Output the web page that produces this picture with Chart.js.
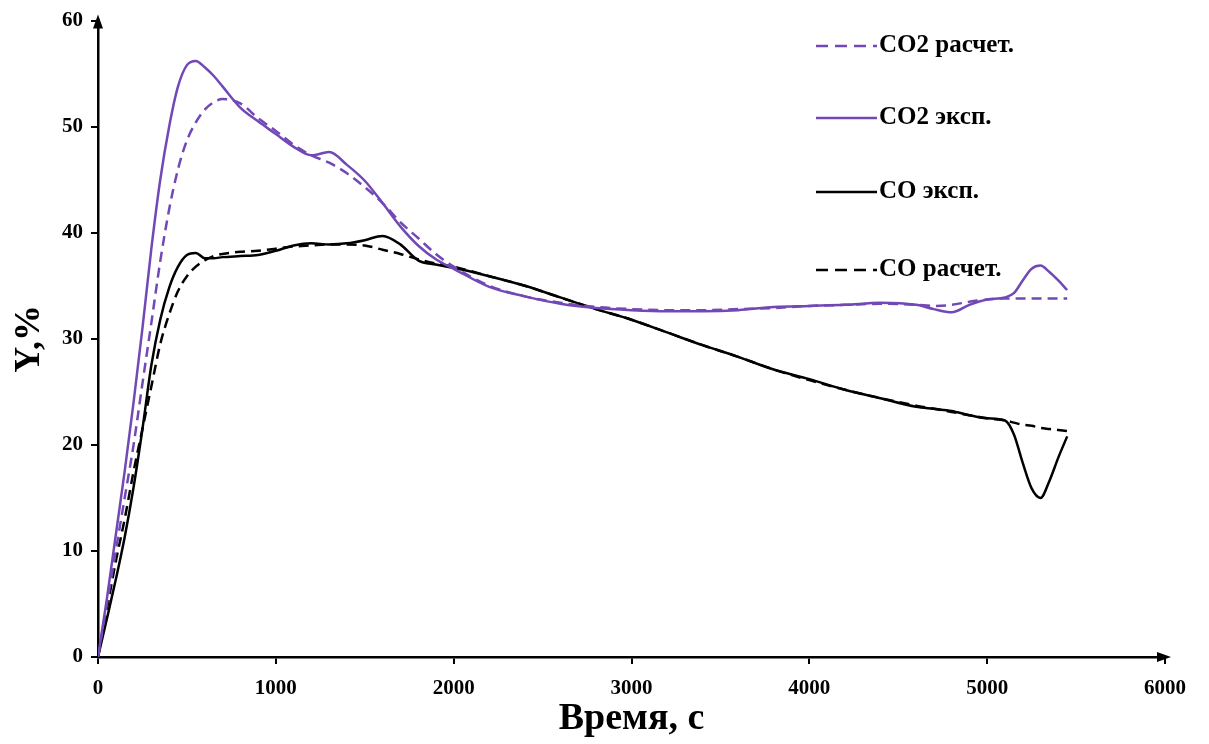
<!DOCTYPE html>
<html>
<head>
<meta charset="utf-8">
<script src="https://cdn.jsdelivr.net/npm/chart.js@4"></script>
<style>
  html, body { margin: 0; padding: 0; background: #fff; }
  #wrap { width: 1209px; height: 744px; }
</style>
</head>
<body>
<div id="wrap"><canvas id="gas-chart"></canvas></div>
<script>
// time, s
var timeSec = [0,50,100,150,200,250,300,350,400,450,500,550,600,650,700,800,900,1000,1100,1200,
  1300,1400,1500,1600,1700,1800,1900,2000,2200,2400,2600,2800,3000,3200,3400,3600,3800,4000,
  4200,4400,4600,4700,4800,4900,5000,5100,5150,5200,5250,5300,5350,5400,5450];

// Y, %
var co2Calc = [0,5,10,15,20,25.8,31.5,37.3,42.2,46,48.7,50.4,51.6,52.3,52.6,52.2,50.8,49.6,48.3,47.3,
  46.6,45.6,44.3,42.8,41.0,39.5,38.0,36.8,35.0,34.0,33.4,33.0,32.8,32.7,32.7,32.8,32.9,33.1,
  33.2,33.3,33.2,33.1,33.2,33.5,33.7,33.8,33.8,33.8,33.8,33.8,33.8,33.8,33.8];
var co2Exp = [0,5.5,11.5,17.5,24,31,38.5,45,50,53.8,55.8,56.2,55.6,54.8,53.8,51.8,50.5,49.3,48.1,47.3,
  47.6,46.4,44.9,42.8,40.6,38.8,37.5,36.6,34.9,34.0,33.3,32.9,32.7,32.6,32.6,32.7,33.0,33.1,
  33.2,33.4,33.2,32.8,32.5,33.2,33.7,33.9,34.3,35.5,36.6,36.9,36.3,35.5,34.6];
var coExp = [0,3.6,7.3,11.3,16,21.5,27.5,31.8,34.8,36.8,37.9,38.1,37.6,37.6,37.7,37.8,37.9,38.3,38.8,39.0,
  38.9,39.0,39.3,39.7,38.9,37.4,37.0,36.7,35.9,35.0,33.9,32.8,31.8,30.6,29.4,28.3,27.1,26.2,
  25.2,24.4,23.6,23.4,23.2,22.8,22.5,22.3,21.0,18.3,15.9,15.0,16.6,18.8,20.8];
var coCalc = [0,4.5,9,13,17.5,21.5,25.5,29.5,32.3,34.5,35.9,36.8,37.4,37.8,38.0,38.2,38.3,38.5,38.7,38.8,
  38.9,38.9,38.8,38.4,38.0,37.5,37.1,36.8,35.9,35.0,33.9,32.8,31.8,30.6,29.4,28.3,27.1,26.1,
  25.2,24.4,23.7,23.4,23.1,22.8,22.5,22.3,22.1,21.9,21.8,21.6,21.5,21.4,21.3];

var seriesNames = ["CO2 расчет.", "CO2 эксп.", "CO эксп.", "CO расчет."];
var purple = "#7248b6";
var serif = "'Liberation Serif', 'Times New Roman', serif";

function pts(values) {
  return timeSec.map(function (t, i) { return { x: t, y: values[i] }; });
}

function line(label, values, color, dashed) {
  return {
    label: label,
    data: pts(values),
    borderColor: color,
    borderWidth: 2.5,
    borderDash: dashed ? [10, 6] : [],
    pointRadius: 0,
    fill: false,
    cubicInterpolationMode: 'monotone'
  };
}

// arrowheads on both axes
var axisArrows = {
  id: 'axisArrows',
  afterDraw: function (chart) {
    var ctx = chart.ctx, a = chart.chartArea;
    ctx.save();
    ctx.fillStyle = '#000';
    ctx.beginPath();
    ctx.moveTo(a.left, a.top - 6);
    ctx.lineTo(a.left - 5, a.top + 8);
    ctx.lineTo(a.left + 5, a.top + 8);
    ctx.closePath();
    ctx.fill();
    ctx.beginPath();
    ctx.moveTo(a.right + 6, a.bottom);
    ctx.lineTo(a.right - 8, a.bottom - 5);
    ctx.lineTo(a.right - 8, a.bottom + 5);
    ctx.closePath();
    ctx.fill();
    ctx.restore();
  }
};

// stacked legend in the upper right
var sideLegend = {
  id: 'sideLegend',
  afterDraw: function (chart) {
    var ctx = chart.ctx;
    var rows = [46, 118, 192, 270];
    ctx.save();
    ctx.font = "bold 25px " + serif;
    ctx.textBaseline = 'middle';
    chart.data.datasets.forEach(function (ds, i) {
      var y = rows[i];
      ctx.strokeStyle = ds.borderColor;
      ctx.lineWidth = 2.5;
      ctx.setLineDash(ds.borderDash.length ? [12, 7] : []);
      ctx.beginPath();
      ctx.moveTo(816, y);
      ctx.lineTo(877, y);
      ctx.stroke();
      ctx.setLineDash([]);
      ctx.fillStyle = '#000';
      ctx.fillText(ds.label, 879, y);
    });
    ctx.restore();
  }
};

new Chart(document.getElementById("gas-chart"), {
  type: 'line',
  data: {
    datasets: [
      line(seriesNames[0], co2Calc, purple, true),
      line(seriesNames[1], co2Exp, purple, false),
      line(seriesNames[2], coExp, '#000', false),
      line(seriesNames[3], coCalc, '#000', true)
    ]
  },
  options: {
    responsive: true,
    maintainAspectRatio: false,
    animation: false,
    layout: { padding: { top: 20, right: 44, bottom: 2, left: 8 } },
    plugins: {
      legend: { display: false },
      tooltip: { enabled: false }
    },
    scales: {
      x: {
        type: 'linear',
        min: 0,
        max: 6000,
        border: { color: '#000', width: 2.5 },
        grid: { drawOnChartArea: false, color: '#000', tickLength: 7, lineWidth: 2 },
        ticks: {
          stepSize: 1000,
          color: '#000',
          padding: 12,
          maxRotation: 0,
          font: { family: serif, size: 21, weight: 'bold' },
          callback: function (v) { return String(v); }
        },
        title: {
          display: true,
          text: 'Время, с',
          color: '#000',
          padding: { top: 0, bottom: 0 },
          font: { family: serif, size: 38, weight: 'bold' }
        },
        afterFit: function (s) { s.height = 85; }
      },
      y: {
        min: 0,
        max: 60,
        border: { color: '#000', width: 2.5 },
        grid: { drawOnChartArea: false, color: '#000', tickLength: 7, lineWidth: 2 },
        ticks: {
          stepSize: 10,
          color: '#000',
          padding: 8,
          font: { family: serif, size: 21, weight: 'bold' }
        },
        title: {
          display: true,
          text: 'Y,%',
          color: '#000',
          padding: { top: 0, bottom: 0 },
          font: { family: serif, size: 36, weight: 'bold' }
        },
        afterFit: function (s) { s.width = 90; }
      }
    }
  },
  plugins: [axisArrows, sideLegend]
});
</script>
</body>
</html>
